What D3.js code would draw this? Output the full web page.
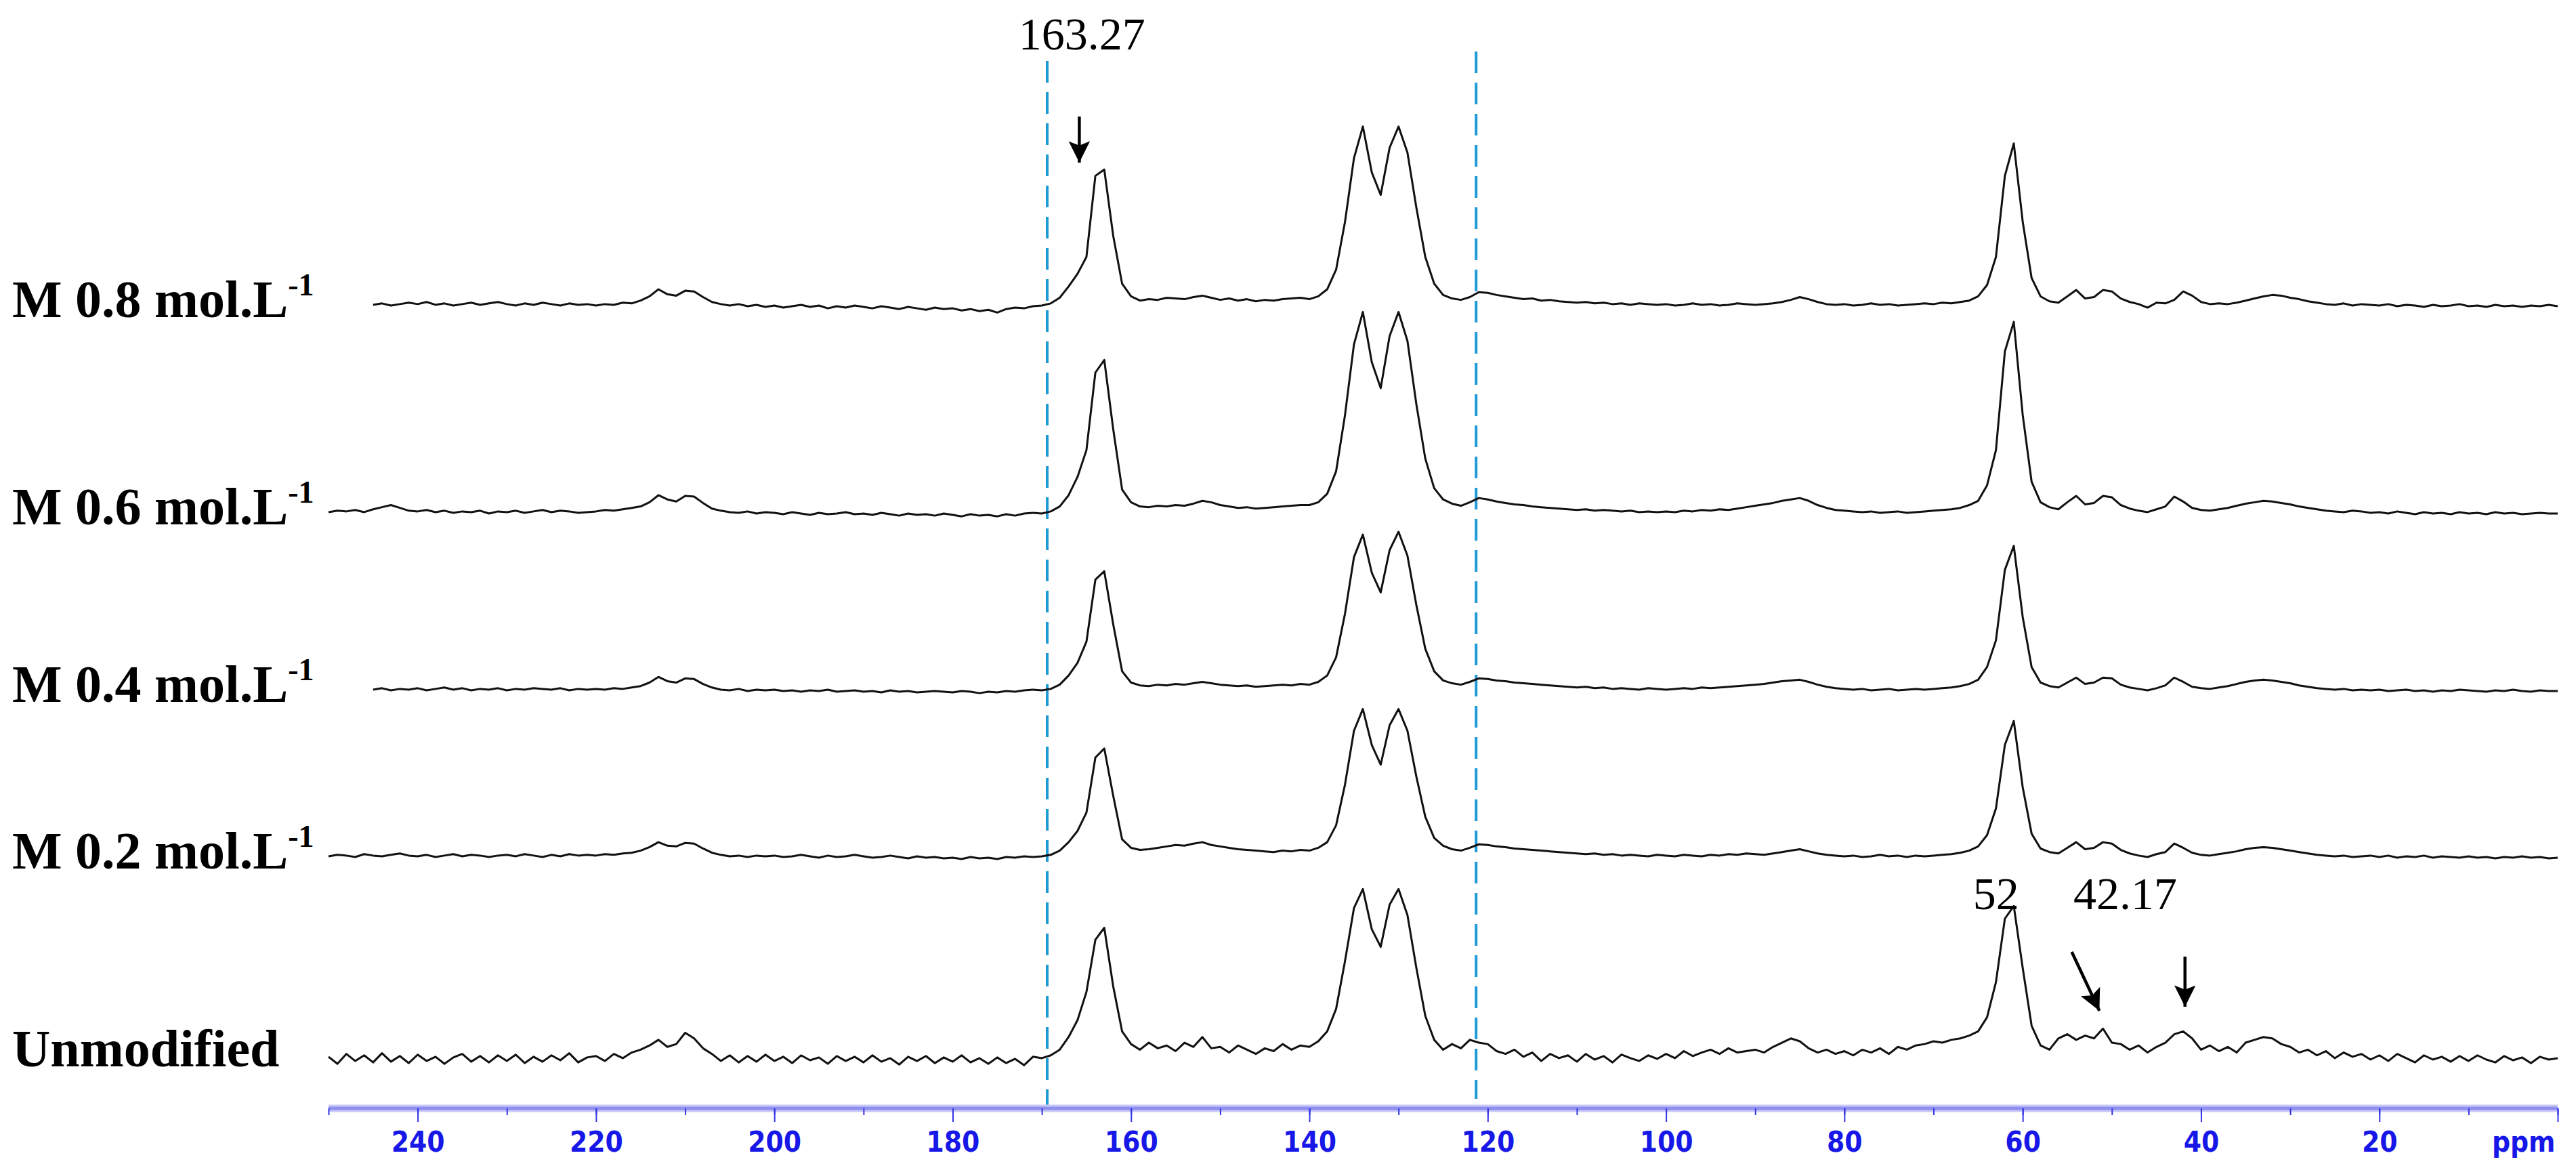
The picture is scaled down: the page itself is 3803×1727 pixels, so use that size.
<!DOCTYPE html>
<html><head><meta charset="utf-8">
<script src="https://cdn.jsdelivr.net/npm/d3@7"></script>
<style>html,body{margin:0;background:#fff}svg{display:block}</style>
</head><body><svg id="chart" width="3803" height="1727"></svg>
<script>
// ===== data (intensity above each trace's baseline, one value per ppm, 250 -> 0) =====
const labels = ["M 0.8 mol.L", "M 0.6 mol.L", "M 0.4 mol.L", "M 0.2 mol.L", "Unmodified"];
const ppmStart = 250, ppmStep = 1;
const s08 = [null,null,null,null,null,2,4,1,3,5, 3,6,2,4,1,3,5,2,4,6, 3,1,4,2,5,3,1,4,2,3, 1,3,2,5,4,8,14,24,17,15,
 22,21,13,6,3,1,3,0,2,-1, 1,-2,0,2,-1,1,-3,0,-2,1, -1,-3,0,-2,-4,-1,-3,-5,-2,-4, -3,-6,-4,-7,-5,-9,-4,-2,-3,0,
 1,4,12,28,46,70,185,194,100,32, 14,8,10,9,12,11,10,13,15,12, 9,11,8,10,7,9,8,10,11,12, 10,14,24,52,120,210,255,190,158,225,
 255,218,140,70,32,16,11,9,13,20, 19,16,14,12,10,11,8,9,7,6, 5,6,4,5,3,4,2,4,3,2, 3,1,2,4,2,3,1,2,4,3,
 2,3,4,6,9,13,10,6,3,2, 3,1,2,4,2,3,1,2,3,4, 3,5,4,6,8,14,30,70,185,231, 120,40,14,7,5,14,23,11,13,23,
 21,11,6,3,-2,5,4,9,21,15, 6,3,4,3,5,8,11,14,16,15, 12,10,7,5,3,2,4,1,3,2, 1,3,0,2,1,-1,2,0,1,3, 0,1,-1,2,0,1,-1,1,0,2, 0];
const s06 = [2,4,3,5,2,6,9,12,8,4, 3,5,2,4,1,3,2,4,0,3, 2,4,1,3,5,2,4,3,1,2, 3,5,4,6,8,10,16,26,20,17,
 25,24,15,7,4,2,1,3,0,2, 1,-1,2,0,-2,1,-1,0,2,-1, 0,-2,1,-1,-3,0,-2,-1,-3,0, -2,-4,-1,-3,-2,-4,-1,-3,0,1,
 0,3,10,26,52,90,200,218,120,34, 16,10,9,11,10,12,11,14,18,16, 12,10,8,9,7,8,9,10,11,12, 12,16,28,60,140,240,286,215,178,252,
 286,245,155,78,36,20,14,11,16,22, 20,17,15,13,12,10,9,8,7,6, 5,6,4,5,4,3,4,2,3,2, 3,2,4,3,5,4,6,5,7,9,
 11,13,15,18,20,22,18,12,8,5, 4,3,2,3,1,2,3,1,2,3, 4,5,6,8,12,18,40,90,230,272, 140,45,16,9,6,16,25,13,15,25,
 23,12,7,4,2,6,10,24,17,8, 5,4,6,8,11,14,16,18,17,15, 13,10,8,6,4,3,2,4,3,1, 2,0,3,1,-1,2,0,1,-1,2, 0,1,-1,2,0,1,-1,0,1,0, 0];
const s04 = [null,null,null,null,null,2,4,1,3,2, 4,1,3,5,2,4,1,3,2,4, 1,3,2,4,3,2,4,1,3,2, 3,2,4,3,5,7,12,20,14,12,
 18,17,10,5,2,1,3,0,2,1, 2,0,1,-1,1,0,2,-1,0,1, -1,0,-2,1,-1,0,-2,-1,0,-1, -2,0,-1,-3,-1,-2,0,-1,1,2,
 1,3,9,22,40,70,158,170,95,28, 12,8,7,9,8,10,9,11,13,11, 9,8,7,8,6,7,8,9,8,10, 9,13,22,48,110,190,222,168,140,200,
 226,192,122,60,28,15,11,9,13,18, 17,15,14,12,11,10,9,8,7,6, 5,6,4,5,3,4,3,2,4,3, 2,3,4,3,5,4,5,6,7,8,
 9,10,12,14,15,16,13,9,6,4, 3,2,3,1,2,3,1,2,3,2, 3,4,5,7,10,16,34,72,172,206, 105,34,12,7,5,12,19,10,12,19,
 18,9,5,3,1,4,8,19,13,6, 4,3,5,7,10,13,15,16,15,13, 11,8,6,4,3,2,3,1,2,1, 2,0,1,2,0,1,-1,1,0,2, 1,0,-1,1,0,2,0,-1,1,0, 0];
const s02 = [2,4,3,1,5,3,2,4,6,3, 2,4,1,3,5,2,4,3,1,3, 4,2,5,3,1,4,2,5,3,4, 3,5,4,6,7,10,15,22,17,16,
 21,20,13,7,4,2,3,1,3,2, 3,1,2,4,2,0,3,1,2,4, 2,0,1,3,1,-1,2,0,1,-1, 0,-2,1,-1,0,-2,1,0,2,1,
 2,4,10,22,38,64,142,155,88,26, 14,11,12,14,16,18,17,20,22,18, 16,14,12,11,10,9,8,10,9,11, 10,14,22,46,104,180,211,160,132,188,
 211,180,115,58,28,17,12,10,14,19, 18,16,15,13,12,11,10,9,8,7, 6,5,6,4,5,3,4,3,2,4, 3,2,4,3,2,4,3,5,4,6,
 5,4,6,8,10,12,9,6,4,3, 2,3,1,2,4,2,3,1,3,2, 3,4,5,7,10,16,32,70,160,194, 100,34,13,8,6,14,22,12,14,22,
 20,11,6,3,1,5,8,20,14,7, 4,3,5,7,9,12,14,15,14,12, 10,8,6,4,3,2,3,1,2,3, 1,3,0,2,1,3,0,2,1,0, 2,0,1,-1,1,0,2,0,1,-1, 0];
const s00 = [4,-6,8,-2,6,-4,9,-3,5,-5, 7,-2,4,-6,3,8,-3,5,-4,6, -2,7,-5,4,-3,6,-1,9,-4,3, 5,-2,8,2,10,14,20,28,18,22,
 38,30,16,8,-2,6,-4,5,-3,7, -2,4,-5,6,-1,3,-6,5,-2,4, -4,6,-3,2,-7,4,-2,5,-5,3, -3,6,-4,2,-6,3,-5,1,-8,4,
 2,6,14,32,56,96,170,187,104,40, 22,14,24,16,20,12,24,18,32,16, 18,10,20,14,8,16,12,22,14,20, 18,26,40,72,140,215,242,185,160,220,
 242,205,130,62,28,14,22,16,28,24, 22,12,8,14,4,10,-2,8,2,6, -3,8,0,5,-4,7,2,-2,6,1, 8,2,12,5,10,14,8,16,10,12,
 14,10,18,24,30,26,16,10,14,8, 12,6,14,10,16,8,18,14,20,22, 26,24,28,30,34,40,60,110,200,218, 130,48,20,14,30,36,28,34,30,44,
 24,22,14,20,10,18,24,36,40,30, 14,20,12,18,10,24,28,32,30,22, 18,10,14,6,12,2,10,4,8,0, 6,-2,8,2,-4,6,0,4,-3,5, -2,6,0,-4,5,-1,3,-5,4,0, 2];
const series = [s08, s06, s04, s02, s00];
const baselines = [452, 758, 1020, 1266, 1564];       // px baseline of each trace
const majorTicks = [240,220,200,180,160,140,120,100,80,60,40,20];
const dashedAt = [169.4, 121.3];
const peakNotes = [{t:"163.27", ppm:165.5, y:73}, {t:"52", ppm:63, y:1342}, {t:"42.17", ppm:48.5, y:1342}];
const arrows = [{ppm:165.8, y0:172, x1:165.8, y1:240}, {ppm:54.5, y0:1405, x1:51.4, y1:1492}, {ppm:41.8, y0:1412, x1:41.8, y1:1486}];

// ===== chart =====
const svg = d3.select("#chart");
const x = d3.scaleLinear().domain([250, 0]).range([485, 3776]);
const axisY = 1636;

// dashed guide lines
svg.selectAll("line.guide").data(dashedAt).join("line")
  .attr("x1", d=>x(d)).attr("x2", d=>x(d))
  .attr("y1", (d,i)=> i ? 76 : 90).attr("y2", (d,i)=> i ? 1622 : axisY)
  .attr("stroke","#1e9ad6").attr("stroke-width",4).attr("stroke-dasharray","32 14");

// traces
series.forEach((vals, k)=>{
  const y = d3.scaleLinear().domain([0, 300]).range([baselines[k], baselines[k] - 312]);
  const line = d3.line()
    .defined(d => d != null)
    .x((d,i) => x(ppmStart - i*ppmStep))
    .y(d => y(d));
  svg.append("path").attr("d", line(vals))
    .attr("fill","none").attr("stroke","#111").attr("stroke-width",3).attr("stroke-linejoin","round");
});

// row labels
const labG = svg.append("g").attr("font-family","'Liberation Serif','Times New Roman',serif")
  .attr("font-weight","bold").attr("font-size",78).attr("fill","#000");
labels.forEach((t,k)=>{
  const tx = labG.append("text").attr("x", 18).attr("y", baselines[k] + (k<4 ? 16 : 10));
  tx.append("tspan").text(t);
  if (k < 4) tx.append("tspan").attr("font-size",46).attr("dy",-32).text("-1");
});

// peak notes
svg.selectAll("text.note").data(peakNotes).join("text")
  .attr("x", d=>x(d.ppm)).attr("y", d=>d.y).attr("text-anchor","middle")
  .attr("font-family","'Liberation Serif',serif").attr("font-size",68).text(d=>d.t);

// arrows
const defs = svg.append("defs");
defs.append("marker").attr("id","ah").attr("viewBox","0 0 10 10").attr("refX",10).attr("refY",5)
  .attr("markerWidth",9).attr("markerHeight",7).attr("markerUnits","strokeWidth").attr("orient","auto")
  .append("path").attr("d","M0,0 L10,5 L0,10 L2,5 Z").attr("fill","#000");
svg.selectAll("line.arrow").data(arrows).join("line")
  .attr("x1", d=>x(d.ppm)).attr("y1", d=>d.y0).attr("x2", d=>x(d.x1)).attr("y2", d=>d.y1)
  .attr("stroke","#000").attr("stroke-width",4.5).attr("marker-end","url(#ah)");

// axis
const axG = svg.append("g").attr("transform",`translate(0,${axisY})`);
axG.append("line").attr("x1",x(250)).attr("x2",x(0)).attr("stroke","#c9c9f7").attr("stroke-width",11);
axG.append("line").attr("x1",x(250)).attr("x2",x(0)).attr("stroke","#8f8ff0").attr("stroke-width",5);
axG.append("g").call(d3.axisBottom(x).tickValues(d3.range(250, -1, -10)).tickSize(10).tickFormat(""))
  .call(g=>g.select(".domain").remove()).selectAll("line").attr("stroke","#3434e6").attr("stroke-width",2);
axG.append("g").call(d3.axisBottom(x).tickValues(majorTicks.concat([0])).tickSize(20).tickFormat(d=> d===0 ? "ppm" : d).tickPadding(14))
  .call(g=>g.select(".domain").remove())
  .call(g=>g.selectAll("line").attr("stroke","#3434e6").attr("stroke-width",2))
  .call(g=>g.selectAll("text").attr("fill","#1717e8").attr("font-size",42).attr("font-weight","bold")
     .attr("font-family","'DejaVu Sans Condensed','DejaVu Sans',sans-serif"))
  .call(g=>g.selectAll(".tick").filter(d=>d===0).select("text").attr("text-anchor","end").attr("dx",-4));
</script></body></html>
